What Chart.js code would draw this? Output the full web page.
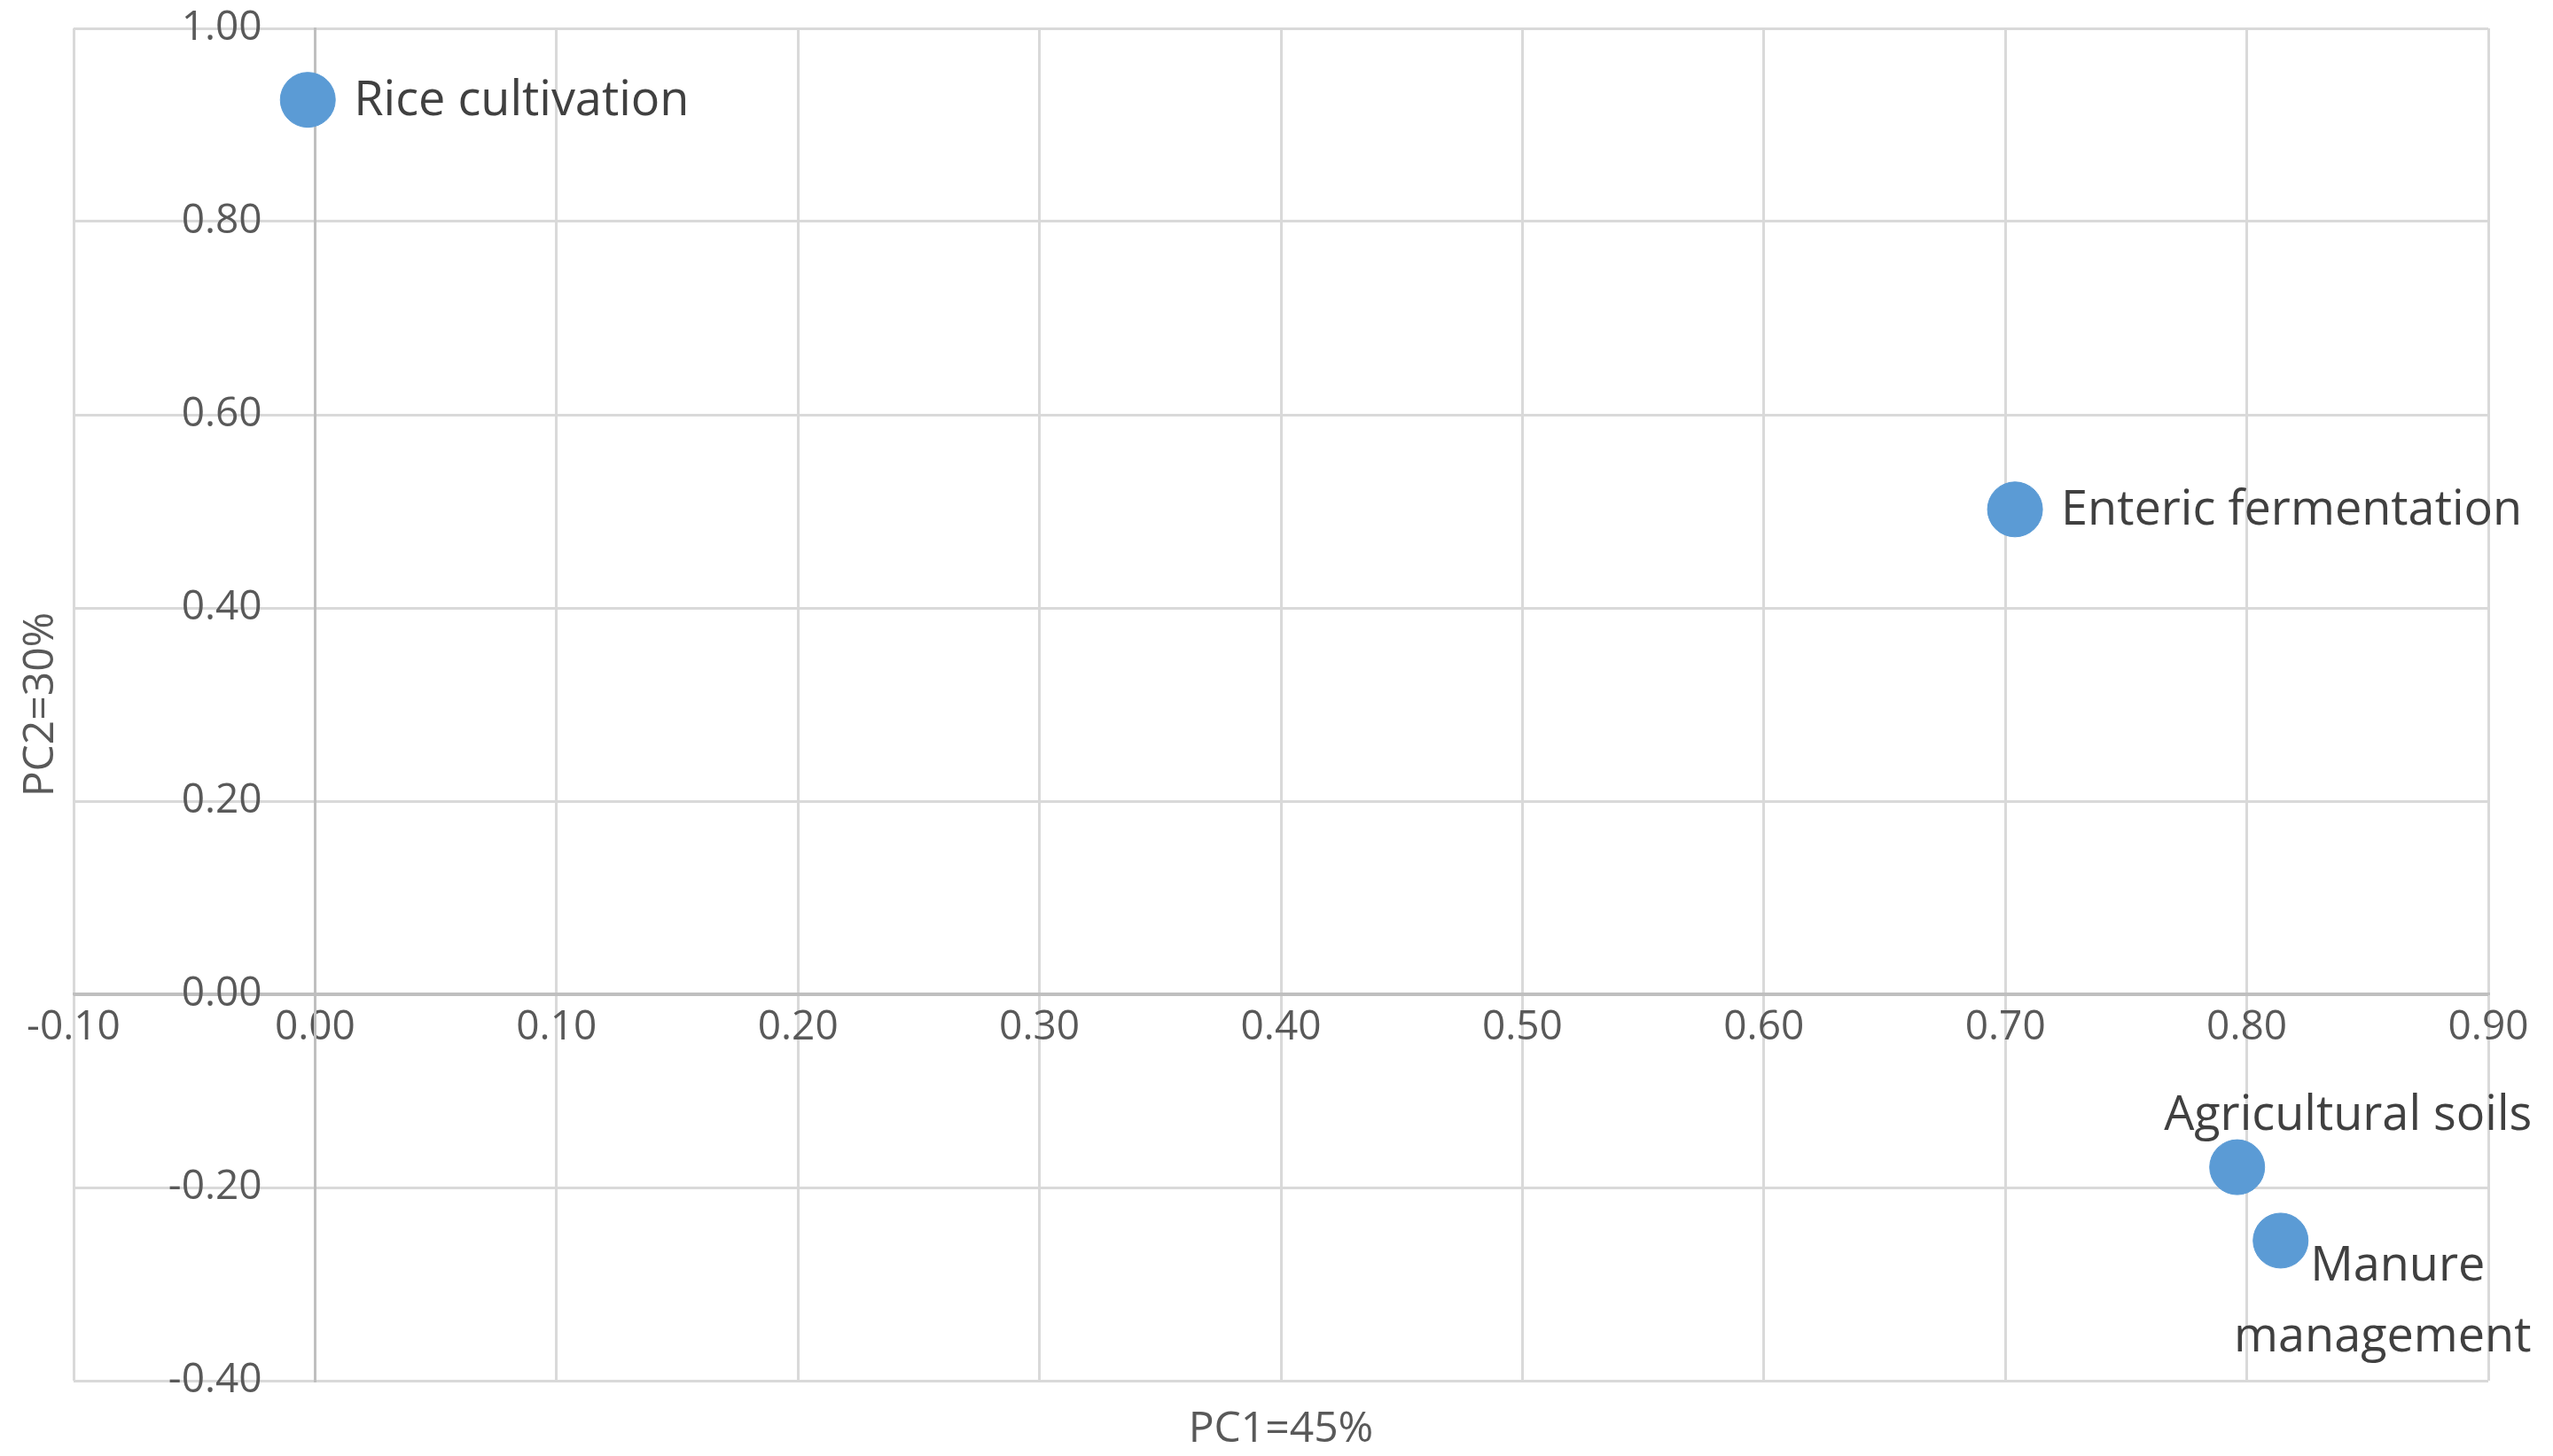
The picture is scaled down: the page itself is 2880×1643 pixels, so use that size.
<!DOCTYPE html>
<html>
<head>
<meta charset="utf-8">
<script src="https://cdn.jsdelivr.net/npm/chart.js@4"></script>
<style>
  html, body { margin: 0; padding: 0; background: #fff; }
  #wrap { width: 2880px; height: 1643px; }
</style>
</head>
<body>
<div id="wrap"><canvas id="chart"></canvas></div>
<script>
// Datos
const pointNames = ["Rice cultivation", "Enteric fermentation", "Agricultural soils", "Manure management"];
const pc1Values = [-0.003, 0.704, 0.796, 0.814];
const pc2Values = [0.926, 0.502, -0.179, -0.255];
const xTitle = "PC1=45%";
const yTitle = "PC2=30%";

const textColor = "#595959";
const gridColor = "#d9d9d9";
const axisColor = "#bfbfbf";
const fontFam = "'Open Sans', Calibri, sans-serif";

const fmt = v => (Math.abs(v) < 1e-9 ? 0 : v).toFixed(2);

// etiquetas de los puntos
const pointLabels = {
  id: "pointLabels",
  afterDatasetsDraw(chart) {
    const ctx = chart.ctx;
    const meta = chart.getDatasetMeta(0);
    ctx.save();
    ctx.fillStyle = "#404040";
    ctx.font = "54px " + fontFam;
    ctx.textBaseline = "middle";
    meta.data.forEach((pt, i) => {
      const name = pointNames[i];
      if (i === 2) {
        ctx.textAlign = "center";
        ctx.fillText(name, pt.x + 125, pt.y - 58);
      } else if (i === 3) {
        ctx.textAlign = "center";
        ctx.fillText("Manure", pt.x + 132, pt.y + 30);
        ctx.fillText("management", pt.x + 115, pt.y + 110);
      } else {
        ctx.textAlign = "left";
        ctx.fillText(name, pt.x + 52, pt.y + 2);
      }
    });
    ctx.restore();
  }
};

// titulos de ejes
const axisTitles = {
  id: "axisTitles",
  afterDraw(chart) {
    const ctx = chart.ctx;
    const area = chart.chartArea;
    ctx.save();
    ctx.fillStyle = textColor;
    ctx.font = "48px " + fontFam;
    ctx.textAlign = "center";
    ctx.textBaseline = "middle";
    ctx.fillText(xTitle, chart.scales.x.getPixelForValue(0.4), area.bottom + 55);
    ctx.translate(46, (area.top + area.bottom) / 2);
    ctx.rotate(-Math.PI / 2);
    ctx.fillText(yTitle, 0, 0);
    ctx.restore();
  }
};

new Chart(document.getElementById("chart"), {
  type: "scatter",
  data: {
    datasets: [{
      data: pc1Values.map((v, i) => ({ x: v, y: pc2Values[i] })),
      backgroundColor: "#5b9bd5",
      borderColor: "#5b9bd5",
      pointRadius: 31,
      pointHoverRadius: 31
    }]
  },
  options: {
    responsive: true,
    maintainAspectRatio: false,
    animation: false,
    layout: { padding: { left: 83, right: 73, top: 0, bottom: 85 } },
    plugins: { legend: { display: false }, tooltip: { enabled: false } },
    scales: {
      x: {
        type: "linear",
        position: { y: 0 },
        min: -0.1, max: 0.9,
        ticks: {
          stepSize: 0.1,
          color: textColor,
          font: { size: 46, family: fontFam },
          callback: v => fmt(v),
          padding: 10
        },
        grid: {
          lineWidth: 3, drawTicks: false,
          color: c => (c.tick && Math.abs(c.tick.value) < 1e-9) ? axisColor : gridColor
        },
        border: { color: axisColor, width: 3 }
      },
      y: {
        type: "linear",
        position: { x: 0 },
        min: -0.4, max: 1.0,
        ticks: {
          stepSize: 0.2,
          color: textColor,
          font: { size: 46, family: fontFam },
          callback: v => fmt(v) + "     ",
          padding: 0
        },
        grid: {
          lineWidth: 3, drawTicks: false,
          color: c => (c.tick && Math.abs(c.tick.value) < 1e-9) ? axisColor : gridColor
        },
        border: { color: axisColor, width: 3 }
      }
    }
  },
  plugins: [pointLabels, axisTitles]
});
</script>
</body>
</html>
